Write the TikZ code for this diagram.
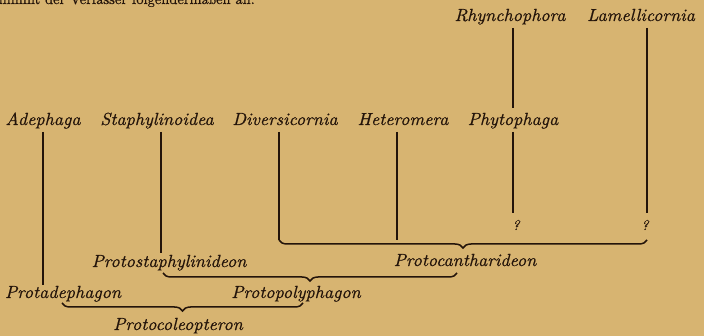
\documentclass[tikz,border=0pt]{standalone}
\usepackage{fontspec}
\usetikzlibrary{decorations.pathreplacing}
\newfontface\labfont{lmroman10-italic.otf}[FakeBold=0.6, FakeStretch=1.03]
\newfontface\bodyfont{lmroman10-regular.otf}[FakeBold=0.5]
\definecolor{paper}{RGB}{215,180,113}
\definecolor{ink}{RGB}{35,20,10}
\tikzset{
  lbl/.style={anchor=base, inner sep=0pt, text=ink, font=\fontsize{17.5}{20}\labfont},
  qm/.style={anchor=base, inner sep=0pt, text=ink, font=\fontsize{14}{16}\labfont},
  stem/.style={draw=ink, line width=1.7pt},
  brc/.style={draw=ink, line width=1.5pt, decorate, decoration={brace, mirror, amplitude=8pt, aspect=0.5}}
}
\begin{document}
\begin{tikzpicture}[x=1pt, y=-1pt]
\fill[paper] (0,0) rectangle (704,336);
\useasboundingbox (0,0) rectangle (704,336);
\clip (0,0) rectangle (704,336);
% partial text line at the top
\node[anchor=base east, inner sep=0pt, text=ink, font=\fontsize{14.5}{17}\bodyfont] (top) at (255,4) {nimmt der Verfasser folgendermaßen an:};
% top row
\node[lbl] (rhy) at (510,21) {Rhynchophora};
\node[lbl] (lam) at (641,21) {Lamellicornia};
% middle row
\node[lbl] (ade) at (43,125) {Adephaga};
\node[lbl] (sta) at (157,125) {Staphylinoidea};
\node[lbl] (div) at (285,125) {Diversicornia};
\node[lbl] (het) at (403,125) {Heteromera};
\node[lbl] (phy) at (513,125) {Phytophaga};
% question marks
\node[qm] (q1) at (516,230) {?};
\node[qm] (q2) at (645,230) {?};
% lower labels
\node[lbl] (pst) at (169,267) {Protostaphylinideon};
\node[lbl] (pca) at (465,266) {Protocantharideon};
\node[lbl] (pad) at (63,298) {Protadephagon};
\node[lbl] (ppo) at (296,298) {Protopolyphagon};
\node[lbl] (pco) at (178,330) {Protocoleopteron};
% stem coordinates
\coordinate (rhyA) at (513,28);  \coordinate (rhyB) at (513,108);
\coordinate (phyA) at (513,132); \coordinate (phyB) at (513,213);
\coordinate (lamA) at (647,28);  \coordinate (lamB) at (647,213);
\coordinate (adeA) at (43,132);  \coordinate (adeB) at (43,285);
\coordinate (staA) at (161,132); \coordinate (staB) at (161,253);
\coordinate (divA) at (279,132); \coordinate (divB) at (279,240);
\coordinate (hetA) at (397,132); \coordinate (hetB) at (397,240);
% brace ends
\coordinate (caL) at (279,240); \coordinate (caR) at (647,240);
\coordinate (poL) at (163,273); \coordinate (poR) at (457,273);
\coordinate (coL) at (62,303);  \coordinate (coR) at (303,303);
% stems
\draw[stem] (rhyA) -- (rhyB);
\draw[stem] (phyA) -- (phyB);
\draw[stem] (lamA) -- (lamB);
\draw[stem] (adeA) -- (adeB);
\draw[stem] (staA) -- (staB);
\draw[stem] (divA) -- (divB);
\draw[stem] (hetA) -- (hetB);
% braces
\draw[brc] (caL) -- (caR);
\draw[brc] (poL) -- (poR);
\draw[brc] (coL) -- (coR);
\end{tikzpicture}
\end{document}
